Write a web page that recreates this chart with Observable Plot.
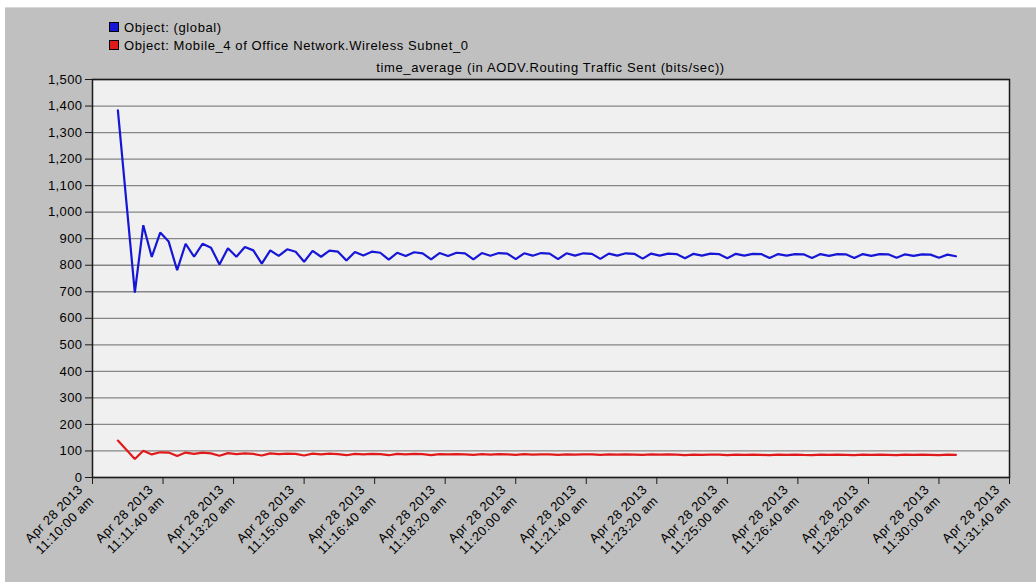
<!DOCTYPE html>
<html>
<head>
<meta charset="utf-8">
<script src="https://cdn.jsdelivr.net/npm/d3@7"></script>
<script src="https://cdn.jsdelivr.net/npm/@observablehq/plot@0.6"></script>
<style>
html, body { margin: 0; padding: 0; background: #ffffff; }
body { width: 1036px; height: 582px; overflow: hidden; position: relative; font-family: "Liberation Sans", Arial, sans-serif; }
#panel { position: absolute; left: 5px; top: 7px; width: 1031px; height: 575px; background: #c0c0c0; border-top: 1px solid #d8d8d8; box-sizing: border-box; }
#legend { position: absolute; left: 104px; top: 10px; font-size: 13px; letter-spacing: 0.6px; color: #000; }
.row { height: 18px; display: flex; align-items: center; white-space: nowrap; }
.sw { width: 8px; height: 8px; border: 1px solid #000; margin-right: 5px; }
#title { position: absolute; left: 87px; width: 917px; top: 52px; line-height: 15px; text-align: center; font-size: 13px; letter-spacing: 0.65px; color: #000; white-space: nowrap; }
#chart { position: absolute; left: 0; top: 61px; }
</style>
</head>
<body>
<div id="panel">
  <div id="legend"></div>
  <div id="title"></div>
  <div id="chart"></div>
</div>
<script>
// ---- data ----
const chartTitle = "time_average (in AODV.Routing Traffic Sent (bits/sec))";
const seriesNames = ["Object: (global)", "Object: Mobile_4 of Office Network.Wireless Subnet_0"];
const seriesColors = ["#1616d6", "#e01a1a"];
const startTime = "2013-04-28T11:10:36Z";
const stepSeconds = 12;
const globalValues = [
  1384, 1040,
  697, 951, 831, 923, 889,
  781, 881, 832, 881, 866,
  803, 864, 832, 869, 856,
  806, 856, 835, 860, 851,
  813, 854, 832, 855, 851,
  818, 850, 837, 851, 847,
  821, 847, 835, 849, 845,
  822, 846, 835, 847, 845,
  822, 846, 836, 846, 844,
  823, 845, 836, 846, 844,
  823, 845, 836, 845, 843,
  824, 844, 836, 845, 843,
  825, 844, 836, 844, 842,
  826, 843, 836, 844, 842,
  826, 843, 836, 843, 842,
  827, 842, 836, 842, 841,
  827, 842, 835, 842, 841,
  827, 842, 835, 842, 841,
  828, 841, 835, 841, 840,
  828, 840, 834
];
const mobileValues = [
  139, 105,
  70, 101, 87, 95, 94,
  81, 94, 89, 94, 91,
  82, 92, 88, 91, 89,
  83, 91, 88, 90, 89,
  83, 90, 87, 90, 88,
  84, 89, 87, 89, 88,
  84, 89, 87, 89, 88,
  84, 88, 87, 88, 87,
  85, 88, 86, 88, 87,
  85, 88, 86, 87, 87,
  85, 87, 86, 87, 87,
  85, 87, 86, 87, 86,
  85, 87, 86, 87, 86,
  84, 86, 85, 86, 86,
  84, 86, 85, 86, 85,
  84, 86, 85, 86, 85,
  84, 86, 85, 86, 85,
  84, 86, 85, 86, 85,
  84, 86, 85, 86, 85,
  84, 86, 85
];
const xTickTimes = ["11:10:00","11:11:40","11:13:20","11:15:00","11:16:40","11:18:20","11:20:00",
                    "11:21:40","11:23:20","11:25:00","11:26:40","11:28:20","11:30:00","11:31:40"];
const xTickDate = "2013-04-28";
const yTicks = [0,100,200,300,400,500,600,700,800,900,1000,1100,1200,1300,1400,1500];

// ---- build rows ----
const t0 = new Date(startTime).getTime();
const rows = [];
[globalValues, mobileValues].forEach((vals, s) => {
  vals.forEach((v, i) => rows.push({t: new Date(t0 + i * stepSeconds * 1000), v, s: seriesNames[s]}));
});
const xTicks = xTickTimes.map(t => new Date(`${xTickDate}T${t}Z`));
const fmtDay = d3.utcFormat("%b %d %Y");
const fmtTime = d3.utcFormat("%H:%M:%S");
const fmtTick = d => `${fmtDay(d)}\n${fmtTime(d)} am`;

// ---- legend & title ----
const legend = document.getElementById("legend");
seriesNames.forEach((n, i) => {
  const r = document.createElement("div"); r.className = "row";
  const sw = document.createElement("span"); sw.className = "sw"; sw.style.background = seriesColors[i];
  const tx = document.createElement("span"); tx.textContent = n;
  r.appendChild(sw); r.appendChild(tx); legend.appendChild(r);
});
document.getElementById("title").textContent = chartTitle;

// ---- chart ----
const W = 1031, H = 514;
const chart = Plot.plot({
  width: W, height: H,
  marginLeft: 87, marginRight: 27, marginTop: 10, marginBottom: 106,
  style: {background: "transparent", fontFamily: "'Liberation Sans', Arial, sans-serif", fontSize: "13px", color: "#000"},
  x: {type: "utc", domain: [xTicks[0], xTicks[xTicks.length - 1]]},
  y: {domain: [0, 1500]},
  color: {domain: seriesNames, range: seriesColors},
  marks: [
    Plot.frame({fill: "#f0f0f0", stroke: null}),
    Plot.gridY(yTicks, {stroke: "#868686", strokeOpacity: 1, strokeWidth: 1.3}),
    Plot.frame({stroke: "#1a1a1a", strokeWidth: 1.5}),
    Plot.axisY({ticks: yTicks, tickSize: 7, tickPadding: 3, tickFormat: d3.format(","), label: null, stroke: "#1a1a1a", fontSize: 13}),
    Plot.axisX({ticks: xTicks, tickSize: 7, tickFormat: () => "", label: null, stroke: "#1a1a1a"}),
    Plot.text(xTicks, {x: d => d, frameAnchor: "bottom", text: fmtTick, rotate: -45, textAnchor: "end",
                       lineAnchor: "bottom", lineHeight: 1.2, dx: 2, dy: 24, fontSize: 13, fill: "#000",
                       style: "letter-spacing:0.5px"}),
    Plot.line(rows, {x: "t", y: "v", z: "s", stroke: "s", strokeWidth: 2.2, strokeLinejoin: "miter"})
  ]
});
chart.querySelectorAll("text").forEach(t => t.style.letterSpacing = "0.4px");
document.getElementById("chart").appendChild(chart);
</script>
</body>
</html>
